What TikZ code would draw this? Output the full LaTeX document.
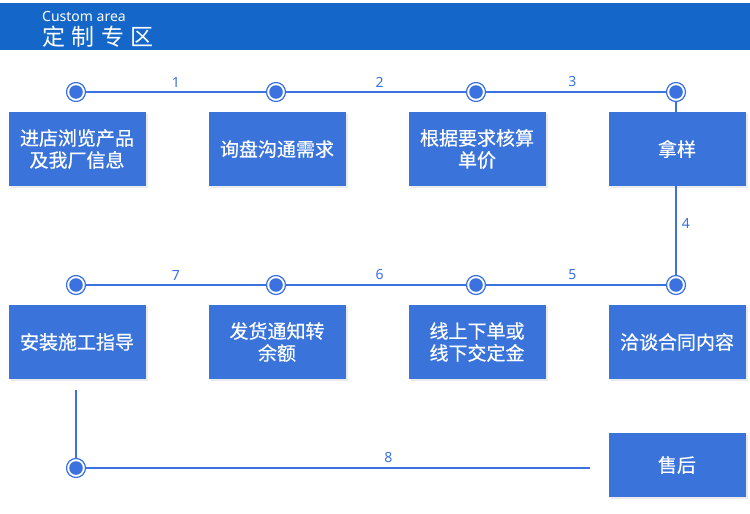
\documentclass[tikz,border=0pt]{standalone}
\usepackage{fontspec}
\setmainfont{Noto Sans}
\newfontfamily\cjk{Noto Sans CJK SC}
\newfontfamily\cjkb{Noto Sans CJK SC}[FakeBold=0.5]
\usetikzlibrary{shadows}
\definecolor{hdr}{HTML}{1466C8}
\definecolor{boxc}{HTML}{3A74DA}
\definecolor{linec}{HTML}{3B72E0}
\tikzset{
  stepbox/.style={fill=boxc, minimum width=137pt, minimum height=74pt, inner sep=0pt,
    text=white, font=\cjkb\fontsize{19}{22}\selectfont, align=center,
    drop shadow={shadow xshift=2pt, shadow yshift=-2pt, fill=black!8, opacity=1}},
  dotc/.style={circle, draw=linec, fill=white, line width=1.2pt, minimum size=19pt, inner sep=0pt,
    path picture={\fill[linec] (path picture bounding box.center) circle (6.8pt);}},
  conn/.style={draw=linec, line width=1.3pt},
  num/.style={text=linec, font=\fontsize{14}{14}\selectfont},
}
\begin{document}
\begin{tikzpicture}[x=1pt,y=-1pt]
\useasboundingbox (0,0) rectangle (750,514);
\fill[white] (0,0) rectangle (750,514);
\fill[hdr] (0,3) rectangle (750,50);
\node[anchor=west, text=white, font=\fontsize{14}{14}\selectfont, inner sep=0pt] (en) at (42,17) {Custom area};
\node[anchor=west, text=white, font=\cjk\fontsize{23}{23}\selectfont, inner sep=0pt] (cn) at (42,37) {定\hspace{6.5pt}制\hspace{6.5pt}专\hspace{6.5pt}区};

% boxes
\node[stepbox] (b1) at (77,149) {进店浏览产品\\及我厂信息};
\node[stepbox] (b2) at (277,149) {询盘沟通需求};
\node[stepbox] (b3) at (477,149) {根据要求核算\\单价};
\node[stepbox] (b4) at (677,149) {拿样};
\node[stepbox] (b5) at (677,342) {洽谈合同内容};
\node[stepbox] (b6) at (477,342) {线上下单或\\线下交定金};
\node[stepbox] (b7) at (277,342) {发货通知转\\余额};
\node[stepbox] (b8) at (77,342) {安装施工指导};
\node[stepbox, minimum height=64pt] (b9) at (677,465) {售后};

% dots
\node[dotc] (d1) at (76,92) {};
\node[dotc] (d2) at (276,92) {};
\node[dotc] (d3) at (476,92) {};
\node[dotc] (d4) at (676,92) {};
\node[dotc] (d5) at (676,285) {};
\node[dotc] (d6) at (476,285) {};
\node[dotc] (d7) at (276,285) {};
\node[dotc] (d8) at (76,285) {};
\node[dotc] (d9) at (76,468) {};
\coordinate (c4a) at (676,112);
\coordinate (c4b) at (676,186);
\coordinate (c8a) at (76,390);
\coordinate (c8b) at (590,468);

\path[conn] (d1) -- node[num, above=1pt, pos=0.5] {1} (d2);
\path[conn] (d2) -- node[num, above=1pt, pos=0.52] {2} (d3);
\path[conn] (d3) -- node[num, above=1pt, pos=0.48] {3} (d4);
\path[conn] (d4) -- (c4a);
\path[conn] (c4b) -- node[num, right=2pt, pos=0.42] {4} (d5);
\path[conn] (d5) -- node[num, above=1pt, pos=0.52] {5} (d6);
\path[conn] (d6) -- node[num, above=1pt, pos=0.48] {6} (d7);
\path[conn] (d7) -- node[num, above=1pt, pos=0.5] {7} (d8);
\path[conn] (c8a) -- (d9);
\path[conn] (d9) -- node[num, above=1pt, pos=0.6] {8} (c8b);
\end{tikzpicture}
\end{document}
